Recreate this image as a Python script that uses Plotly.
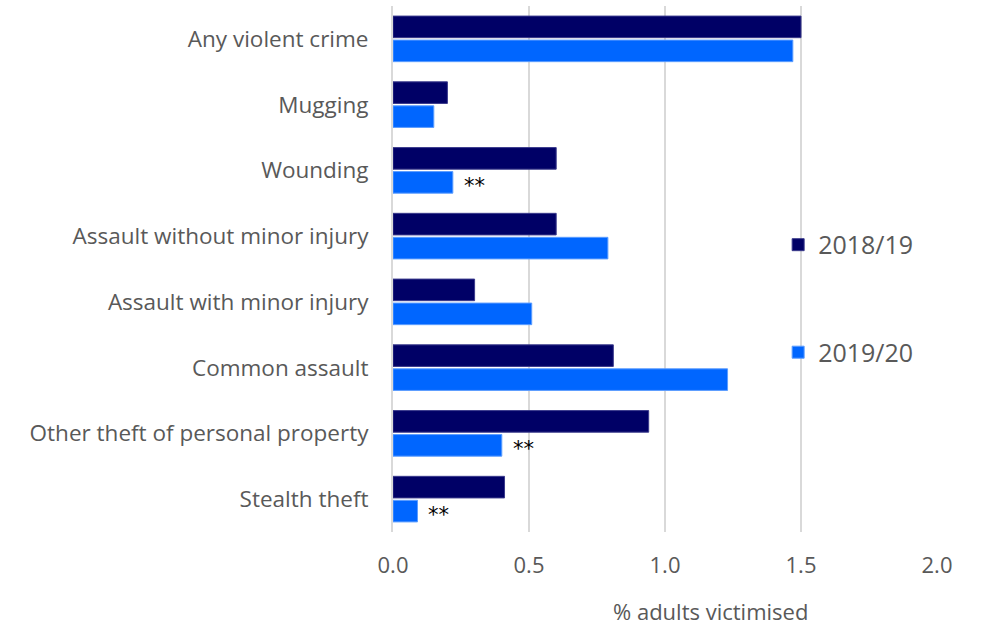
import plotly.graph_objects as go

# Crime types, top to bottom
categories = [
    "Any violent crime",
    "Mugging",
    "Wounding",
    "Assault without minor injury",
    "Assault with minor injury",
    "Common assault",
    "Other theft of personal property",
    "Stealth theft",
]

# % of adults victimised
values_2018_19 = [1.50, 0.20, 0.60, 0.60, 0.30, 0.81, 0.94, 0.41]
values_2019_20 = [1.47, 0.15, 0.22, 0.79, 0.51, 1.23, 0.40, 0.09]

# Statistically significant change flags for 2019/20
significance_2019_20 = ["", "", "**", "", "", "", "**", "**"]

x_ticks = [0.0, 0.5, 1.0, 1.5, 2.0]
x_tick_labels = ["0.0", "0.5", "1.0", "1.5", "2.0"]

FONT = "'Open Sans', Lato, sans-serif"
TEXT_GREY = "#595959"

fig = go.Figure()
fig.add_trace(go.Bar(
    y=categories, x=values_2018_19, orientation="h", name="2018/19",
    legendgroup="a",
    marker=dict(color="#000066", line=dict(color="#3a3a8c", width=1)),
))
fig.add_trace(go.Bar(
    y=categories, x=values_2019_20, orientation="h", name="2019/20",
    legendgroup="b",
    marker=dict(color="#0066FF", line=dict(color="#5c9dff", width=1)),
))

# Significance markers beside the 2019/20 bars
for cat, val, flag in zip(categories, values_2019_20, significance_2019_20):
    if flag:
        fig.add_annotation(
            x=val, y=cat, text=flag, showarrow=False,
            xanchor="left", xshift=9, yshift=-16,
            font=dict(family="DejaVu Sans", size=21, color="#000000"),
        )

fig.add_annotation(
    xref="paper", yref="paper", x=0.583, y=0, yshift=-79,
    xanchor="center", yanchor="middle", showarrow=False,
    text="% adults victimised",
    font=dict(family=FONT, size=22, color=TEXT_GREY),
)

fig.update_layout(
    width=982, height=626,
    margin=dict(l=393, r=45, t=6, b=94),
    paper_bgcolor="white", plot_bgcolor="white",
    barmode="group", bargap=0.27, bargroupgap=0.1,
    font=dict(family=FONT, size=22, color=TEXT_GREY),
    legend=dict(
        x=0.708, y=0.5895, xanchor="left", yanchor="top",
        bgcolor="rgba(0,0,0,0)", tracegroupgap=72,
        traceorder="grouped",
        font=dict(family=FONT, size=25, color=TEXT_GREY),
    ),
    xaxis=dict(
        range=[0, 2.0], tickvals=x_ticks, ticktext=x_tick_labels,
        showgrid=True, gridcolor="#d9d9d9", gridwidth=2,
        zeroline=False, showline=False,
        ticklabelstandoff=18,
        tickfont=dict(size=22, color=TEXT_GREY),
    ),
    yaxis=dict(
        autorange="reversed", showgrid=False, zeroline=False,
        showline=True, linecolor="#d9d9d9", linewidth=2,
        ticklabelstandoff=18,
        tickfont=dict(size=22.5, color=TEXT_GREY),
    ),
)

fig.write_html("out.html")
